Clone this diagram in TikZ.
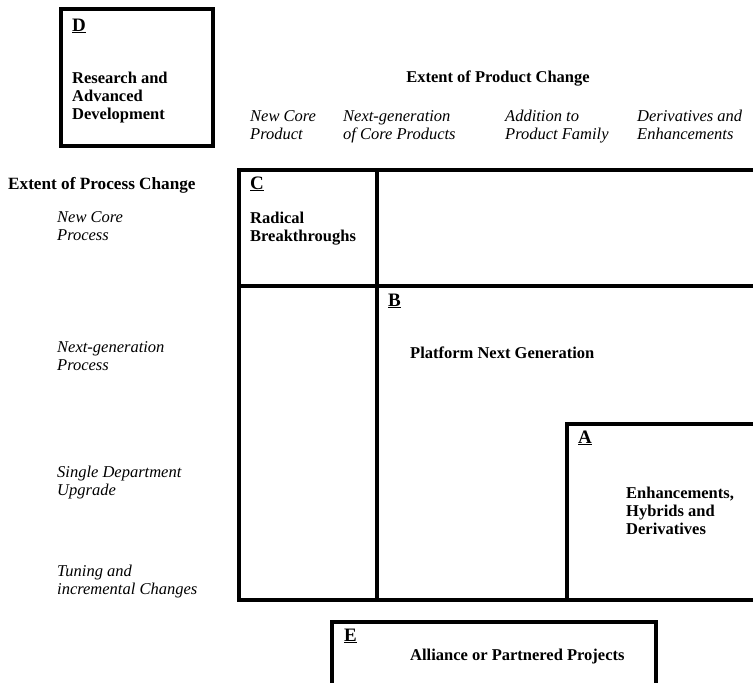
\documentclass[tikz,border=0pt]{standalone}
\usepackage{fontspec}
\setmainfont{Liberation Serif}
\begin{document}
\begin{tikzpicture}[x=1pt,y=-1pt,
  frame/.style={line width=3.4pt, line cap=rect},
  title/.style={anchor=base west, inner sep=0pt, align=left,
    font=\fontsize{16.5}{18}\selectfont\bfseries},
  axis/.style={anchor=base west, inner sep=0pt, align=left,
    font=\fontsize{16.5}{18}\selectfont\itshape},
  letter/.style={anchor=base west, inner sep=0pt,
    font=\fontsize{19}{21}\selectfont\bfseries},
]
\useasboundingbox (0,0) rectangle (753,683);
\clip (0,0) rectangle (753,683);

% multi-line nodes are placed by the baseline of their last line

% ---- D: research box ----
\draw[frame] (61,9) rectangle (213,146);
\node[letter] (dl) at (72,31) {\underline{D}};
\node[title] (dt) at (72,119) {Research and\\Advanced\\Development};

% ---- product axis ----
\node[title, anchor=base] (prod) at (498,82) {Extent of Product Change};
\node[axis] (p1) at (250,139) {New Core\\Product};
\node[axis] (p2) at (343,139) {Next-generation\\of Core Products};
\node[axis] (p3) at (505,139) {Addition to\\Product Family};
\node[axis] (p4) at (637,139) {Derivatives and\\Enhancements};

% ---- process axis ----
\node[title, font=\fontsize{17.2}{18}\selectfont\bfseries] (proc) at (8,189) {Extent of Process Change};
\node[axis] (r1) at (57,240) {New Core\\Process};
\node[axis] (r2) at (57,370) {Next-generation\\Process};
\node[axis] (r3) at (57,495) {Single Department\\Upgrade};
\node[axis] (r4) at (57,594) {Tuning and\\incremental Changes};

% ---- project map grid ----
\draw[frame] (760,170) -- (239,170) -- (239,600) -- (760,600);
\draw[frame] (377,170) -- (377,600);
\draw[frame] (239,286) -- (760,286);
\draw[frame] (567,600) -- (567,424) -- (760,424);

% C: radical breakthroughs
\node[letter] (cl) at (250,189) {\underline{C}};
\node[title] (ct) at (250,241) {Radical\\Breakthroughs};

% B: platform projects
\node[letter] (bl) at (388,306) {\underline{B}};
\node[title] (bt) at (410,358) {Platform Next Generation};

% A: derivative projects
\node[letter] (al) at (578,443) {\underline{A}};
\node[title] (at) at (626,534) {Enhancements,\\Hybrids and\\Derivatives};

% ---- E: alliance box ----
\draw[frame] (332,690) -- (332,622) -- (656,622) -- (656,690);
\node[letter] (el) at (344,641) {\underline{E}};
\node[title] (et) at (410,660) {Alliance or Partnered Projects};
\end{tikzpicture}
\end{document}
